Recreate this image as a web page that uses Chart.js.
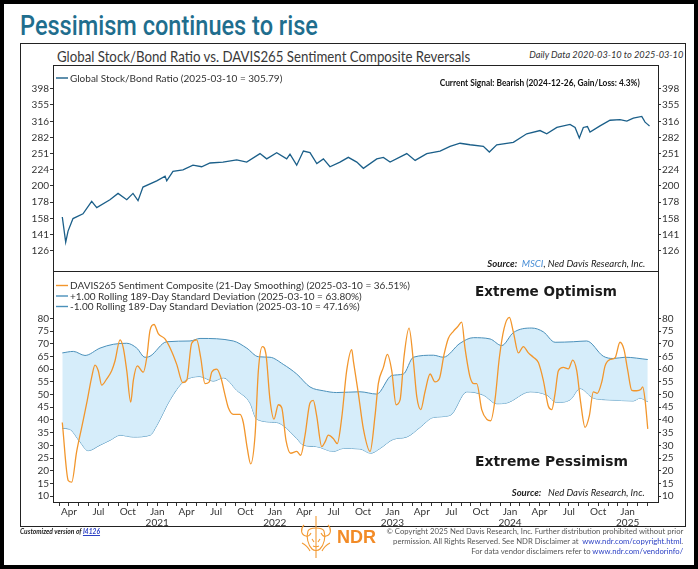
<!DOCTYPE html>
<html>
<head>
<meta charset="utf-8">
<script src="https://cdn.jsdelivr.net/npm/chart.js@4.4.1/dist/chart.umd.min.js"></script>
<style>
  html, body { margin: 0; padding: 0; background: #fff; }
  #page { position: relative; width: 698px; height: 569px; overflow: hidden; font-family: Lato, sans-serif; color: #333; }
  .abs { position: absolute; white-space: nowrap; }
  canvas { position: absolute; }
  #frame { left: 0; top: 0; width: 698px; height: 569px; box-sizing: border-box; border: 4px solid #000; }
  #box { left: 20px; top: 43px; width: 666px; height: 484px; box-sizing: border-box; border: 1px solid #222; }
  #plotBox { left: 53px; top: 65px; width: 606px; height: 438px; box-sizing: border-box; border: 1px solid #222; pointer-events: none; }
  #sep { left: 53px; top: 271px; width: 606px; height: 1px; background: #222; }
  .fitL { transform-origin: left center; }
  .fitR { transform-origin: right center; }
</style>
</head>
<body>
<div id="page">
  <div class="abs fitL" id="title" data-w="298" style="left:20px; top:10px; font: 500 27px Roboto, sans-serif; color:#1f6e8e;">Pessimism continues to rise</div>
  <div class="abs" id="box"></div>
  <div class="abs fitL" data-w="413" style="left:57px; top:47px; font-size:15px; color:#3a3a3a;">Global Stock/Bond Ratio vs. DAVIS265 Sentiment Composite Reversals</div>
  <div class="abs fitR" data-w="154" style="right:15px; top:49px; font-size:9.5px; font-style:italic; color:#333;">Daily Data 2020-03-10 to 2025-03-10</div>

  <canvas id="stockBond" width="666" height="208" style="left:20px; top:64px;"></canvas>
  <canvas id="sentiment" width="666" height="256" style="left:20px; top:271px;"></canvas>

  <div class="abs" id="plotBox"></div>
  <div class="abs" id="sep"></div>

  <div class="abs fitR" data-w="200" style="right:58px; top:78px; font-size:8.5px; font-weight:700; color:#111;">Current Signal: Bearish (2024-12-26, Gain/Loss: 4.3%)</div>
  <div class="abs fitR" data-w="158" style="right:53px; top:258px; font-size:9.5px; font-style:italic; color:#222;"><b>Source:</b>&nbsp;&nbsp;<span style="color:#4b8fd6;">MSCI</span>, Ned Davis Research, Inc.</div>

  <div class="abs fitL" data-w="142" style="left:475px; top:283px; font: 700 14px 'DejaVu Sans', sans-serif; color:#1a1a1a;">Extreme Optimism</div>
  <div class="abs fitL" data-w="153" style="left:475px; top:453px; font: 700 14px 'DejaVu Sans', sans-serif; color:#1a1a1a;">Extreme Pessimism</div>
  <div class="abs fitR" data-w="133" style="right:53px; top:487px; font-size:9.5px; font-style:italic; color:#222;"><b>Source:</b>&nbsp;&nbsp;&nbsp;Ned Davis Research, Inc.</div>

  <div class="abs fitL" data-w="80" style="left:20px; top:527px; font-size:7.5px; font-style:italic; font-weight:700; color:#222;">Customized version of <span style="color:#2a3fc4; text-decoration:underline;">I4126</span></div>

  <svg class="abs" style="left:298px; top:515px;" width="36" height="44" viewBox="0 0 36 44">
    <g fill="none" stroke="#f39a33" stroke-width="1.1">
      <path d="M18 1 L18 43"/>
      <path d="M6 10 C2 14 3 20 8 21 C10 22 12 20 13 18"/>
      <path d="M30 10 C34 14 33 20 28 21 C26 22 24 20 23 18"/>
      <path d="M10 16 C12 12 24 12 26 16 C28 22 26 30 22 34 C20 36 16 36 14 34 C10 30 8 22 10 16 Z"/>
      <path d="M14 24 L16 27 M22 24 L20 27 M15 31 C17 32 19 32 21 31"/>
      <path d="M4 28 C8 30 10 32 12 36 M32 28 C28 30 26 32 24 36"/>
    </g>
  </svg>
  <div class="abs" style="left:337px; top:527px; font: 700 18px 'Liberation Sans', Arial, sans-serif; color:#f28b27;">NDR</div>

  <div class="abs fitR" data-w="297" style="right:15px; top:527px; font-size:7.5px; color:#555;">© Copyright 2025 Ned Davis Research, Inc. Further distribution prohibited without prior</div>
  <div class="abs fitR" data-w="290" style="right:15px; top:537px; font-size:7.5px; color:#555;">permission. All Rights Reserved. See NDR Disclaimer at&nbsp; <span style="color:#2a3fc4;">www.ndr.com/copyright.html</span>.</div>
  <div class="abs fitR" data-w="212" style="right:15px; top:547px; font-size:7.5px; color:#555;">For data vendor disclaimers refer to <span style="color:#2a3fc4;">www.ndr.com/vendorinfo/</span></div>

  <div class="abs" id="frame"></div>
</div>

<script>
// ---- data (x values are decimal years) ----
const stockT = [2020.193, 2020.222, 2020.242, 2020.284, 2020.369, 2020.443, 2020.486, 2020.598, 2020.667, 2020.741,
  2020.794, 2020.837, 2020.879, 2020.996, 2021.067, 2021.081, 2021.134, 2021.219, 2021.304, 2021.378,
  2021.449, 2021.559, 2021.676, 2021.761, 2021.874, 2021.931, 2022.016, 2022.101, 2022.129, 2022.186,
  2022.243, 2022.299, 2022.357, 2022.413, 2022.469, 2022.554, 2022.625, 2022.697, 2022.753, 2022.867,
  2022.923, 2022.980, 2023.122, 2023.193, 2023.292, 2023.405, 2023.490, 2023.575, 2023.660, 2023.773,
  2023.824, 2023.887, 2024.028, 2024.142, 2024.255, 2024.312, 2024.398, 2024.510, 2024.553, 2024.589,
  2024.623, 2024.658, 2024.680, 2024.765, 2024.850, 2024.935, 2024.993, 2025.048, 2025.120, 2025.148,
  2025.170, 2025.186];
const stockV = [160.2, 134.0, 144.9, 158.4, 163.8, 179.1, 171.3, 181.1, 189.4, 181.1,
  189.4, 179.9, 198.1, 207.0, 214.1, 207.0, 221.4, 223.9, 231.5, 228.9,
  235.1, 236.6, 240.5, 236.6, 251.3, 242.1, 253.0, 242.1, 250.3, 231.5,
  255.9, 253.0, 234.2, 242.1, 228.9, 236.6, 244.7, 236.6, 226.4, 242.1,
  244.7, 236.6, 251.3, 239.4, 251.3, 255.9, 264.6, 270.5, 267.6, 264.6,
  254.2, 267.6, 272.3, 289.3, 296.0, 289.3, 302.6, 309.3, 302.6, 281.0,
  302.6, 304.6, 292.7, 306.0, 318.5, 319.8, 316.4, 323.5, 327.2, 314.3,
  309.3, 305.8];

const sentT = [2020.193, 2020.244, 2020.273, 2020.315, 2020.358, 2020.401, 2020.443, 2020.471, 2020.499, 2020.528,
  2020.571, 2020.613, 2020.641, 2020.684, 2020.712, 2020.741, 2020.775, 2020.797, 2020.831, 2020.882,
  2020.911, 2020.939, 2020.973, 2021.009, 2021.066, 2021.123, 2021.166, 2021.217, 2021.251, 2021.293,
  2021.336, 2021.370, 2021.406, 2021.443, 2021.463, 2021.506, 2021.540, 2021.577, 2021.605, 2021.647,
  2021.704, 2021.732, 2021.766, 2021.795, 2021.832, 2021.860, 2021.894, 2021.925, 2021.959, 2021.993,
  2022.030, 2022.059, 2022.095, 2022.135, 2022.186, 2022.220, 2022.257, 2022.299, 2022.327, 2022.356,
  2022.399, 2022.427, 2022.455, 2022.497, 2022.531, 2022.569, 2022.611, 2022.654, 2022.668, 2022.710,
  2022.753, 2022.810, 2022.852, 2022.880, 2022.923, 2022.957, 2022.994, 2023.031, 2023.065, 2023.099,
  2023.141, 2023.178, 2023.207, 2023.241, 2023.277, 2023.320, 2023.362, 2023.399, 2023.439, 2023.475,
  2023.518, 2023.552, 2023.589, 2023.617, 2023.660, 2023.694, 2023.717, 2023.759, 2023.802, 2023.836,
  2023.872, 2023.909, 2023.949, 2023.994, 2024.028, 2024.071, 2024.113, 2024.156, 2024.198, 2024.241,
  2024.283, 2024.326, 2024.355, 2024.383, 2024.411, 2024.453, 2024.496, 2024.533, 2024.567, 2024.601,
  2024.638, 2024.674, 2024.708, 2024.742, 2024.780, 2024.808, 2024.850, 2024.893, 2024.935, 2024.969,
  2025.001, 2025.035, 2025.077, 2025.111, 2025.128, 2025.148, 2025.171];
const sentV = [39.0, 16.1, 15.5, 27.5, 37.1, 46.7, 56.9, 61.6, 59.4, 53.7,
  56.2, 59.4, 63.2, 71.5, 68.3, 59.4, 47.0, 55.6, 61.3, 58.8,
  64.5, 75.3, 77.6, 74.0, 71.9, 67.0, 61.9, 54.7, 55.6, 70.2,
  71.5, 64.5, 54.3, 55.0, 58.8, 60.0, 56.9, 49.8, 44.8, 42.2,
  42.2, 39.0, 28.8, 22.7, 34.0, 59.4, 68.9, 65.8, 47.9, 40.3,
  46.0, 44.8, 32.0, 26.9, 27.6, 26.1, 34.0, 46.7, 47.7, 41.6,
  29.5, 31.4, 34.0, 32.7, 30.7, 40.9, 59.4, 67.7, 63.2, 50.5,
  36.5, 27.6, 41.6, 54.3, 60.7, 65.8, 59.4, 46.0, 47.9, 65.1,
  76.2, 63.2, 49.2, 44.1, 51.1, 58.1, 55.0, 56.2, 65.8, 72.1,
  74.9, 76.6, 78.5, 68.3, 56.9, 54.3, 54.3, 44.1, 40.3, 39.7,
  47.9, 64.5, 76.0, 80.4, 74.7, 66.4, 68.9, 66.4, 64.7, 62.6,
  55.6, 45.4, 44.1, 50.5, 59.4, 60.7, 60.1, 63.6, 59.4, 46.7,
  37.1, 41.6, 51.1, 50.5, 55.0, 61.3, 63.8, 64.5, 70.6, 67.7,
  59.4, 51.7, 51.5, 52.0, 53.0, 47.9, 36.5];

const upperT = [2020.193, 2020.287, 2020.386, 2020.514, 2020.627, 2020.741, 2020.826, 2020.896, 2020.939, 2021.081,
  2021.279, 2021.364, 2021.647, 2021.761, 2021.860, 2021.959, 2022.072, 2022.186, 2022.299, 2022.412,
  2022.526, 2022.724, 2022.866, 2022.994, 2023.093, 2023.178, 2023.348, 2023.433, 2023.575, 2023.688,
  2023.830, 2023.929, 2024.028, 2024.185, 2024.283, 2024.383, 2024.538, 2024.652, 2024.793, 2024.878,
  2024.978, 2025.171];
const upperV = [66.4, 67.0, 65.4, 68.3, 69.8, 70.2, 68.3, 64.7, 65.1, 70.8,
  71.1, 72.1, 71.1, 68.3, 64.9, 64.7, 61.9, 58.1, 53.0, 51.5,
  50.8, 51.1, 50.2, 57.5, 58.1, 64.7, 65.5, 64.7, 70.2, 72.4,
  71.9, 69.3, 74.4, 76.2, 74.7, 70.6, 70.8, 71.1, 65.1, 64.2,
  64.7, 63.8];

const lowerT = [2020.193, 2020.253, 2020.343, 2020.412, 2020.514, 2020.599, 2020.684, 2020.797, 2020.939, 2020.996,
  2021.109, 2021.222, 2021.364, 2021.477, 2021.562, 2021.676, 2021.789, 2021.846, 2022.016, 2022.072,
  2022.186, 2022.242, 2022.356, 2022.497, 2022.582, 2022.724, 2022.815, 2022.895, 2023.008, 2023.122,
  2023.235, 2023.348, 2023.490, 2023.632, 2023.773, 2023.887, 2023.972, 2024.170, 2024.312, 2024.397,
  2024.510, 2024.595, 2024.708, 2024.850, 2025.048, 2025.105, 2025.171];
const lowerV = [36.7, 36.4, 31.4, 27.9, 30.1, 32.0, 34.0, 33.3, 34.0, 37.8,
  47.9, 55.0, 57.1, 55.3, 56.6, 51.7, 46.7, 40.3, 39.0, 37.8,
  32.7, 30.1, 29.5, 27.6, 28.8, 28.6, 26.9, 28.8, 32.4, 33.3,
  37.1, 41.0, 41.8, 51.1, 49.8, 46.4, 46.7, 51.1, 49.8, 46.9,
  47.9, 52.4, 48.6, 47.9, 47.5, 48.6, 47.2];

const ratioTicks = [126, 141, 158, 178, 200, 224, 251, 282, 316, 355, 398];
const sentTicks = [10, 15, 20, 25, 30, 35, 40, 45, 50, 55, 60, 65, 70, 75, 80];
const monthNames = ['Jan', 'Apr', 'Jul', 'Oct'];

const xMin = 2020.114, xMax = 2025.258;

const pts = (t, v) => t.map((x, i) => ({ x: x, y: v[i] }));

/*----------------------------------------------------------------*/
// draws the small line-sample legend inside the plot area
const panelLegend = {
    id: 'panelLegend',
    afterDraw(chart, args, opts) {
        const { ctx, chartArea } = chart;
        ctx.save();
        ctx.font = opts.font;
        ctx.textBaseline = 'middle';
        chart.data.datasets.forEach((ds, i) => {
            const x = chartArea.left + opts.left;
            const y = chartArea.top + opts.top + i * opts.row;
            ctx.strokeStyle = ds.borderColor;
            ctx.lineWidth = 1.4;
            ctx.beginPath();
            ctx.moveTo(x, y);
            ctx.lineTo(x + 12, y);
            ctx.stroke();
            ctx.fillStyle = '#333';
            ctx.fillText(ds.label, x + 14, y + 0.5);
        });
        ctx.restore();
    }
};

const tickFont = { family: 'Lato', size: 10 };

function yAxis(type, pos, min, max, ticksList, width) {
    return {
        type: type,
        position: pos,
        min: min,
        max: max,
        border: { display: false },
        grid: { drawOnChartArea: false, tickLength: 3, color: '#333' },
        ticks: {
            color: '#333',
            font: tickFont,
            padding: 1,
            autoSkip: false,
            callback: (v) => String(v)
        },
        afterBuildTicks: (axis) => { axis.ticks = ticksList.map(v => ({ value: v })); },
        afterFit: (axis) => { axis.width = width; }
    };
}

/*----------------------------------------------------------------*/
new Chart(document.getElementById('stockBond'), {
    type: 'line',
    data: {
        datasets: [
            {
                label: 'Global Stock/Bond Ratio (2025-03-10 = 305.79)',
                data: pts(stockT, stockV),
                borderColor: '#1b5f89',
                borderWidth: 1.3,
                pointRadius: 0,
                tension: 0
            }
        ]
    },
    options: {
        responsive: false,
        animation: false,
        layout: { padding: { top: 1, bottom: 1, left: 0, right: 0 } },
        plugins: {
            legend: { display: false },
            tooltip: { enabled: false },
            panelLegend: { font: '10px Lato', left: 3, top: 7, row: 11 }
        },
        scales: {
            x: { type: 'linear', min: xMin, max: xMax, display: false },
            y: yAxis('logarithmic', 'left', 113.9, 451.9, ratioTicks, 33),
            yR: yAxis('logarithmic', 'right', 113.9, 451.9, ratioTicks, 28)
        }
    },
    plugins: [panelLegend]
});

/*----------------------------------------------------------------*/
new Chart(document.getElementById('sentiment'), {
    type: 'line',
    data: {
        datasets: [
            {
                label: 'DAVIS265 Sentiment Composite (21-Day Smoothing) (2025-03-10 = 36.51%)',
                data: pts(sentT, sentV),
                borderColor: '#f2962c',
                borderWidth: 1.3,
                pointRadius: 0,
                cubicInterpolationMode: 'monotone'
            },
            {
                label: '+1.00 Rolling 189-Day Standard Deviation (2025-03-10 = 63.80%)',
                data: pts(upperT, upperV),
                borderColor: '#4a90ba',
                borderWidth: 1,
                pointRadius: 0,
                cubicInterpolationMode: 'monotone',
                fill: '+1',
                backgroundColor: 'rgba(210, 235, 250, 0.9)'
            },
            {
                label: '-1.00 Rolling 189-Day Standard Deviation (2025-03-10 = 47.16%)',
                data: pts(lowerT, lowerV),
                borderColor: '#4a90ba',
                borderWidth: 1,
                pointRadius: 0,
                cubicInterpolationMode: 'monotone'
            }
        ]
    },
    options: {
        responsive: false,
        animation: false,
        layout: { padding: 0 },
        plugins: {
            legend: { display: false },
            tooltip: { enabled: false },
            panelLegend: { font: '10px Lato', left: 3, top: 7.5, row: 10.5 }
        },
        scales: {
            x: {
                type: 'linear',
                min: xMin,
                max: xMax,
                border: { display: false },
                grid: { drawOnChartArea: false, tickLength: 4, color: '#333' },
                ticks: {
                    color: '#333',
                    font: { family: 'Lato', size: 10, lineHeight: 1.1 },
                    padding: 0,
                    autoSkip: false,
                    maxRotation: 0,
                    callback: (v) => {
                        const idx = Math.round((v - 2020) * 12);
                        const m = idx % 12;
                        if (m % 3 !== 0) return '';
                        const name = monthNames[m / 3];
                        return m === 0 ? [name, String(2020 + Math.floor(idx / 12))] : name;
                    }
                },
                afterBuildTicks: (axis) => {
                    // monthly tick marks, Mar 2020 .. Mar 2025
                    const t = [];
                    for (let k = 2; k <= 62; k++) t.push({ value: 2020 + k / 12 });
                    axis.ticks = t;
                },
                afterFit: (axis) => { axis.height = 25; }
            },
            y: yAxis('linear', 'left', 7.7, 95.9, sentTicks, 33),
            yR: yAxis('linear', 'right', 7.7, 95.9, sentTicks, 28)
        }
    },
    plugins: [panelLegend]
});

/*----------------------------------------------------------------*/
// squeeze the html text blocks to the widths seen in the picture
document.querySelectorAll('[data-w]').forEach(el => {
    const w = el.getBoundingClientRect().width;
    el.style.transform = 'scaleX(' + (Number(el.dataset.w) / w).toFixed(3) + ')';
});
</script>
</body>
</html>
